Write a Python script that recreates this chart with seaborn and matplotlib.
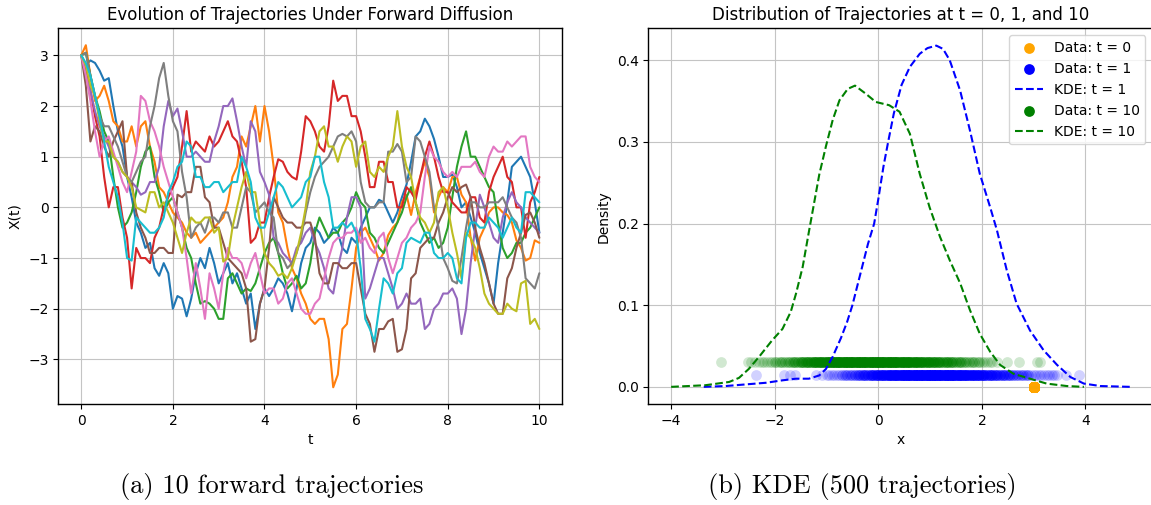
import numpy as np
import pandas as pd
import matplotlib.pyplot as plt
import seaborn as sns

# --- left panel: 10 forward trajectories (step 0.1) ---
t_grid = [0.0, 0.1, 0.2, 0.3, 0.4, 0.5, 0.6, 0.7, 0.8, 0.9,
          1.0, 1.1, 1.2, 1.3, 1.4, 1.5, 1.6, 1.7, 1.8, 1.9,
          2.0, 2.1, 2.2, 2.3, 2.4, 2.5, 2.6, 2.7, 2.8, 2.9,
          3.0, 3.1, 3.2, 3.3, 3.4, 3.5, 3.6, 3.7, 3.8, 3.9,
          4.0, 4.1, 4.2, 4.3, 4.4, 4.5, 4.6, 4.7, 4.8, 4.9,
          5.0, 5.1, 5.2, 5.3, 5.4, 5.5, 5.6, 5.7, 5.8, 5.9,
          6.0, 6.1, 6.2, 6.3, 6.4, 6.5, 6.6, 6.7, 6.8, 6.9,
          7.0, 7.1, 7.2, 7.3, 7.4, 7.5, 7.6, 7.7, 7.8, 7.9,
          8.0, 8.1, 8.2, 8.3, 8.4, 8.5, 8.6, 8.7, 8.8, 8.9,
          9.0, 9.1, 9.2, 9.3, 9.4, 9.5, 9.6, 9.7, 9.8, 9.9,
          10.0]

traj_01 = [3.0, 2.8, 2.9, 2.85, 2.7, 2.5, 2.55, 2.0, 1.5, 1.2,
           0.6, 0.2, -0.3, -0.5, -0.8, -0.7, -1.2, -1.35, -1.1, -1.3,
           -2.0, -1.75, -1.8, -2.15, -1.8, -1.3, -1.0, -1.2, -0.8, -1.1,
           -1.5, -1.3, -1.1, -1.5, -1.3, -1.6, -1.9, -1.7, -2.4, -1.9,
           -1.6, -1.75, -1.6, -1.4, -1.5, -1.7, -2.05, -1.6, -1.1, -0.8,
           -0.7, -0.4, -0.5, -0.7, -0.6, -0.4, -0.5, -0.8, -0.9, -0.6,
           -0.7, -0.4, -0.2, 0.0, 0.0, 0.15, 0.1, -0.1, -0.3, -0.1,
           0.2, 0.45, 0.9, 1.4, 1.5, 1.75, 1.6, 1.35, 1.0, 0.6,
           0.6, 0.65, 0.4, 0.0, 0.1, -0.2, -0.5, -0.9, -1.2, -1.5,
           -1.9, -1.1, -0.5, 0.1, 0.8, 0.9, 1.0, 0.8, 0.6, 0.1,
           -0.5]
traj_02 = [3.0, 3.2, 2.6, 2.1, 2.2, 2.4, 2.1, 1.7, 1.6, 1.3,
           1.3, 1.6, 1.2, 1.6, 1.7, 1.2, 0.9, 0.4, 0.3, 0.1,
           -0.1, -0.2, -0.3, -0.5, -0.6, -0.5, -0.7, -0.6, -0.5, -0.4,
           -0.3, -0.2, 0.1, 0.6, 0.8, 1.4, 1.2, 1.6, 2.0, 1.3,
           2.0, 1.5, 0.8, -0.1, -0.3, -0.8, -1.2, -1.4, -1.7, -1.9,
           -2.2, -2.3, -2.2, -2.2, -2.6, -3.55, -3.3, -2.4, -2.3, -1.6,
           -0.8, -0.5, -0.4, -0.6, -0.8, -1.05, -0.9, -0.55, -0.4, -0.3,
           0.1, 0.25, -0.15, 0.3, 0.6, 0.9, 0.6, -0.1, 0.2, 0.4,
           0.3, 0.6, 0.6, 0.25, 0.1, -0.6, -1.05, -0.6, -0.4, -0.1,
           0.0, 0.0, -0.1, -0.15, -0.3, -0.65, -0.8, -1.05, -1.0, -0.65,
           -0.7]
traj_03 = [3.0, 3.05, 2.6, 2.2, 1.9, 1.5, 1.3, 0.6, 0.0, -0.4,
           -0.3, -0.1, 0.3, 0.8, 1.1, 1.2, 0.6, 0.3, -0.1, 0.1,
           0.2, -0.1, -0.4, -0.8, -1.0, -1.5, -1.9, -1.85, -1.9, -2.0,
           -2.2, -2.2, -1.4, -1.3, -1.5, -1.7, -1.6, -1.65, -1.5, -1.2,
           -0.9, -0.7, -0.6, -0.9, -1.3, -1.6, -1.5, -1.35, -1.6, -1.5,
           -1.1, -0.5, -0.2, -0.4, -0.6, -0.5, -0.5, -0.3, -0.2, 0.0,
           0.3, 0.1, 0.0, -0.5, -0.6, -0.8, -0.9, -0.7, -0.5, -0.3,
           -0.1, 0.2, 0.4, 0.1, -0.3, -0.5, -0.7, -0.6, -0.8, -0.7,
           -0.4, 0.2, 0.8, 1.2, 1.5, 1.0, 1.0, 0.8, 0.6, 0.4,
           0.3, -0.3, -0.8, -1.0, -0.9, -0.7, -0.7, -0.5, -0.4, -0.2,
           0.0]
traj_04 = [3.0, 2.7, 2.3, 1.8, 1.4, 0.6, 0.0, 0.4, 0.4, -0.2,
           -0.6, -1.6, -0.8, -1.0, -1.0, -1.1, -0.6, -0.4, 0.0, 0.2,
           0.4, 0.6, 1.2, 1.9, 1.1, 1.3, 1.2, 1.1, 1.4, 1.2,
           1.3, 1.5, 1.7, 1.4, 1.3, 0.9, 0.4, -0.7, -0.6, -0.3,
           -0.3, 0.2, 0.6, 0.95, 0.9, 0.7, 0.6, 0.55, 1.1, 1.8,
           1.7, 1.5, 1.2, 1.1, 1.6, 2.5, 2.1, 2.2, 2.2, 1.8,
           1.8, 1.5, 1.0, 0.4, 0.4, 0.9, 0.9, 0.5, 0.5, 0.0,
           0.0, 0.4, 0.3, 0.15, 0.6, 1.0, 1.3, 1.0, 0.6, 0.3,
           0.3, 0.1, 0.0, -0.1, -0.1, 0.2, 0.2, -0.2, -0.3, 0.3,
           0.6, 0.8, 1.0, 0.6, 0.5, 0.0, 0.0, -0.6, 0.1, 0.3,
           0.6]
traj_05 = [3.0, 2.6, 2.3, 1.9, 1.6, 1.4, 1.2, 1.0, 0.9, 0.7,
           0.6, 0.5, 0.4, 0.25, 0.3, 0.5, 0.5, 0.8, 1.6, 2.1,
           1.8, 1.95, 1.5, 1.0, 1.0, 1.1, 1.0, 0.9, 0.9, 1.3,
           1.6, 2.0, 2.0, 2.15, 1.7, 1.2, 0.8, 1.7, 1.5, 0.7,
           0.5, 0.25, -0.6, -0.7, -0.9, -1.0, -1.1, -0.8, -0.7, -0.5,
           -0.4, -0.7, -0.9, -1.2, -1.6, -1.7, -1.2, -0.8, -0.2, 0.2,
           0.2, 0.0, -1.8, -1.6, -1.3, -1.0, -1.0, -1.3, -1.6, -2.0,
           -1.9, -1.7, -1.9, -1.9, -1.8, -2.4, -2.3, -2.0, -1.9, -1.7,
           -1.7, -1.6, -1.8, -2.5, -2.0, -1.1, -0.4, 0.25, 0.0, -0.3,
           -0.6, -0.7, -0.2, 0.1, 0.3, 0.1, 0.0, -0.2, -0.3, -0.4,
           -0.5]
traj_06 = [3.0, 2.4, 1.3, 1.6, 1.5, 1.2, 1.0, 1.3, 1.5, 1.7,
           0.6, 0.5, -0.1, -0.4, -0.6, -0.9, -0.9, -0.8, -0.8, -0.9,
           -0.9, 0.25, 0.2, 0.3, 0.3, 0.8, 0.8, 0.2, 0.1, -0.4,
           -0.4, -0.7, -1.0, -1.1, -1.2, -1.3, -1.6, -2.65, -2.6, -1.9,
           -1.6, -0.8, 0.2, 0.0, -0.2, -0.3, -0.3, -0.4, -0.4, -0.3,
           -0.3, -0.6, -1.3, -1.5, -1.5, -1.1, -1.1, -1.2, -1.2, -1.1,
           -1.1, -1.6, -2.1, -2.3, -2.85, -2.4, -2.4, -2.25, -2.2, -2.85,
           -2.8, -2.4, -1.4, -1.3, -0.8, -0.7, -0.6, -0.6, -0.3, -0.1,
           0.2, 0.4, 0.3, 0.4, 0.45, 0.2, -0.4, -0.8, -1.1, -1.5,
           -1.9, -2.1, -2.1, -1.4, -1.2, -0.8, -0.5, -0.15, -0.1, -0.3,
           -0.6]
traj_07 = [3.0, 2.6, 2.1, 1.5, 1.0, 1.3, 1.4, 1.1, 0.8, 0.5,
           0.3, 0.7, 1.1, 2.2, 2.1, 1.7, 1.5, 1.2, 0.8, 0.5,
           0.2, -0.1, -0.4, -1.0, -1.7, -1.1, -1.6, -2.2, -1.3, -1.6,
           -2.0, -1.3, -0.8, -1.0, -1.0, -1.1, -1.4, -1.1, -0.9, -1.3,
           -1.7, -1.6, -1.6, -1.9, -1.8, -1.5, -1.4, -1.7, -2.0, -2.1,
           -2.1, -1.9, -1.8, -1.4, -1.0, -0.7, -0.6, -0.6, -0.5, -0.5,
           -0.4, -0.7, -0.6, -0.8, -0.9, -0.6, -0.5, -1.0, -1.3, -1.0,
           -0.7, -0.6, -0.4, -0.3, -0.1, 0.6, 1.2, 1.0, 0.9, 0.7,
           0.6, 0.7, 0.6, 0.8, 0.8, 0.8, 0.9, 0.7, 0.6, 1.0,
           1.2, 1.1, 1.1, 1.3, 1.2, 1.3, 1.4, 1.4, 0.8, 0.6,
           0.5]
traj_08 = [3.0, 3.05, 2.6, 2.2, 1.8, 1.6, 1.6, 1.4, 1.2, 0.9,
           0.6, 0.5, 0.7, 0.9, 1.0, 1.6, 2.0, 2.55, 2.85, 2.2,
           1.7, 1.5, 0.7, 0.2, -0.6, -0.4, -0.3, -0.5, -0.2, -0.2,
           -0.3, -0.1, -0.1, -0.4, -0.4, 0.0, 0.4, 0.3, -0.1, 0.0,
           0.1, -0.1, -0.2, -0.9, -1.0, -1.2, -1.1, -0.9, -0.6, -0.1,
           0.3, 0.6, 0.8, 0.9, 1.0, 1.2, 1.4, 1.45, 1.4, 1.5,
           1.3, 0.5, 0.1, 0.0, 0.0, 0.1, 0.1, 1.1, 1.1, 1.25,
           1.1, 0.5, 0.6, 1.4, 1.3, 1.0, 0.7, 0.0, -0.4, -1.0,
           -1.2, -1.45, -1.5, -1.0, -0.4, 0.1, 0.1, 0.0, 0.0, 0.1,
           0.1, 0.1, 0.2, 0.0, -0.2, -0.3, -0.6, -1.4, -1.5, -1.6,
           -1.3]
traj_09 = [3.0, 2.8, 2.4, 2.2, 1.7, 1.3, 1.3, 1.0, 0.9, 0.7,
           0.6, 0.4, 0.0, -0.05, -0.1, 0.3, 0.3, 0.0, 0.1, -0.1,
           -0.3, -0.6, -0.9, -0.5, -0.2, -0.3, -0.3, -0.2, -0.2, -0.5,
           -0.4, -1.07, -1.0, -0.4, 0.0, 0.4, 0.7, 0.3, 0.3, -0.3,
           -0.9, -1.1, -1.2, -1.35, -1.3, -1.4, -1.2, -0.9, -0.5, 0.0,
           0.7, 1.0, 1.5, 1.6, 1.2, 1.2, 0.9, 1.2, 1.4, 1.3,
           0.8, 1.2, 1.3, 0.7, 0.6, 0.8, 0.7, 1.0, 1.2, 1.9,
           1.2, 0.8, 0.6, 0.1, -0.2, -0.3, -0.5, -0.3, 0.3, 0.4,
           0.0, -0.5, -0.9, -1.4, -0.5, -0.6, -0.8, -1.2, -1.7, -1.9,
           -2.0, -2.1, -2.1, -1.9, -2.0, -2.05, -1.5, -1.45, -2.3, -2.2,
           -2.4]
traj_10 = [3.0, 2.85, 2.6, 2.2, 1.8, 1.3, 0.8, 0.5, 0.2, -0.3,
           -1.0, -1.05, -0.2, -0.3, -0.4, -0.5, -0.5, -0.4, -0.2, 0.3,
           0.5, 0.8, 0.9, 1.3, 1.2, 0.6, 0.6, 0.4, 0.4, 0.5,
           0.5, 0.3, 0.4, 0.5, 0.5, 1.0, 0.8, 0.5, -0.2, -0.4,
           -0.4, -0.1, 0.2, 0.5, 0.4, 0.2, 0.0, 0.1, 0.2, 0.5,
           0.6, 1.0, 1.0, 0.5, 0.2, -0.4, -0.4, -0.3, -0.4, -0.3,
           -0.5, -1.2, -2.2, -2.4, -2.65, -2.0, -1.4, -1.5, -1.7, -1.3,
           -1.2, -0.7, -0.6, -0.65, -0.7, -0.5, -0.5, -0.9, -1.0, -1.0,
           -0.9, -1.0, -1.4, -1.5, -0.6, -0.3, -0.3, -0.4, -0.4, -0.2,
           -0.3, -0.4, -0.6, -0.4, -0.2, -0.4, -0.5, 0.3, 0.3, 0.2,
           0.1]

trajectories = [traj_01, traj_02, traj_03, traj_04, traj_05,
                traj_06, traj_07, traj_08, traj_09, traj_10]

# --- right panel: KDE curves ---
kde_t1_x = [-3.37, -2.95, -2.56, -2.17, -1.85, -1.59, -1.34, -1.14, -1.01, -0.88,
            -0.72, -0.6, -0.5, -0.4, -0.3, -0.2, -0.08, 0.0, 0.1, 0.19,
            0.3, 0.45, 0.61, 0.8, 0.95, 1.12, 1.25, 1.38, 1.58, 1.77,
            1.96, 2.16, 2.29, 2.48, 2.67, 2.93, 3.19, 3.45, 3.71, 3.97, 4.29, 4.87]
kde_t1_y = [0.0, 0.001, 0.003, 0.005, 0.008, 0.010, 0.010, 0.014, 0.022, 0.037,
            0.060, 0.080, 0.100, 0.125, 0.150, 0.175, 0.200, 0.230, 0.270, 0.300,
            0.335, 0.370, 0.392, 0.408, 0.415, 0.418, 0.414, 0.400, 0.363, 0.314,
            0.261, 0.220, 0.192, 0.143, 0.102, 0.069, 0.045, 0.027, 0.012, 0.004, 0.001, 0.0]

kde_t10_x = [-4.0, -3.34, -2.88, -2.69, -2.5, -2.3, -2.05, -1.85, -1.69, -1.59,
             -1.46, -1.34, -1.24, -1.14, -1.01, -0.88, -0.75, -0.59, -0.45, -0.24,
             -0.05, 0.21, 0.41, 0.61, 0.80, 0.99, 1.19, 1.38, 1.58, 1.77,
             1.96, 2.16, 2.35, 2.61, 2.93, 3.25, 3.64, 3.97]
kde_t10_y = [0.0, 0.002, 0.006, 0.011, 0.022, 0.037, 0.057, 0.071, 0.092, 0.114,
             0.147, 0.190, 0.225, 0.260, 0.295, 0.327, 0.351, 0.365, 0.369, 0.359,
             0.349, 0.345, 0.337, 0.310, 0.261, 0.220, 0.184, 0.155, 0.127, 0.094,
             0.065, 0.043, 0.027, 0.016, 0.010, 0.004, 0.001, 0.0]

# sample positions: value and how many of the 500 trajectories sit there
t0_value = 3.0
t0_count = 500

t1_x = [-2.37, -1.82, -1.70, -1.60, -1.21, -1.08, -1.0, -0.95,
        -0.90, -0.85, -0.80, -0.75, -0.70, -0.65, -0.60, -0.55, -0.50, -0.45,
        -0.40, -0.35, -0.30, -0.25, -0.20, -0.15, -0.10, -0.05, 0.00, 0.05,
        0.10, 0.15, 0.20, 0.25, 0.30, 0.35, 0.40, 0.45, 0.50, 0.55,
        0.60, 0.65, 0.70, 0.75, 0.80, 0.85, 0.90, 0.95, 1.00, 1.05,
        1.10, 1.15, 1.20, 1.25, 1.30, 1.35, 1.40, 1.45, 1.50, 1.55,
        1.60, 1.65, 1.70, 1.75, 1.80, 1.85, 1.90, 1.95, 2.00, 2.05,
        2.10, 2.15, 2.20, 2.25, 2.30, 2.35, 2.40, 2.45, 2.50, 2.55,
        2.60, 2.65, 2.70, 2.75, 2.80, 2.85, 2.90, 2.95, 3.00, 3.05,
        3.10, 3.15, 3.20, 3.25, 3.30, 3.35, 3.40, 3.45, 3.62, 3.87]
t1_n = [1, 1, 1, 1, 1, 1, 1, 1,
        1, 1, 1, 1, 2, 2, 2, 2, 2, 3,
        3, 3, 4, 4, 4, 5, 5, 5, 6, 6,
        7, 7, 8, 8, 8, 9, 9, 9, 10, 10,
        10, 10, 10, 10, 10, 10, 11, 11, 11, 11,
        11, 10, 10, 10, 10, 10, 10, 10, 9, 9,
        9, 8, 8, 8, 7, 7, 7, 6, 6, 6,
        5, 5, 5, 4, 4, 4, 4, 3, 3, 3,
        3, 2, 2, 2, 2, 2, 2, 1, 1, 1,
        1, 1, 1, 1, 1, 1, 1, 1, 1, 1]

t10_x = [-3.03, -2.52, -2.45, -2.38, -2.30, -2.25, -2.20, -2.15, -2.10, -2.05,
         -2.00, -1.95, -1.90, -1.85, -1.80, -1.75, -1.70, -1.65, -1.60, -1.55,
         -1.50, -1.45, -1.40, -1.35, -1.30, -1.25, -1.20, -1.15, -1.10, -1.05,
         -1.00, -0.95, -0.90, -0.85, -0.80, -0.75, -0.70, -0.65, -0.60, -0.55,
         -0.50, -0.45, -0.40, -0.35, -0.30, -0.25, -0.20, -0.15, -0.10, -0.05,
         0.00, 0.05, 0.10, 0.15, 0.20, 0.25, 0.30, 0.35, 0.40, 0.45,
         0.50, 0.55, 0.60, 0.65, 0.70, 0.75, 0.80, 0.85, 0.90, 0.95,
         1.00, 1.05, 1.10, 1.15, 1.20, 1.25, 1.30, 1.35, 1.40, 1.45,
         1.50, 1.55, 1.60, 1.65, 1.70, 1.75, 1.80, 1.85, 1.90, 1.95,
         2.00, 2.05, 2.10, 2.15, 2.20, 2.29, 2.48, 2.71, 3.06, 3.12]
t10_n = [1, 1, 1, 1, 1, 1, 1, 1, 1, 1,
         2, 1, 2, 2, 2, 2, 2, 3, 3, 3,
         4, 4, 4, 5, 5, 6, 6, 6, 7, 7,
         7, 8, 8, 8, 9, 9, 9, 9, 9, 9,
         9, 9, 9, 9, 9, 9, 9, 9, 9, 9,
         9, 9, 9, 9, 9, 9, 9, 9, 8, 8,
         8, 8, 8, 7, 7, 7, 6, 6, 6, 6,
         5, 5, 5, 5, 4, 4, 4, 4, 4, 3,
         3, 3, 3, 2, 2, 2, 2, 2, 1, 2,
         1, 1, 1, 1, 1, 1, 1, 1, 1, 1]

sns.set_theme(style="whitegrid", rc={
    "axes.edgecolor": "black",
    "axes.linewidth": 1.0,
    "grid.color": "#c4c4c4",
    "grid.linewidth": 0.8,
    "xtick.bottom": True,
    "ytick.left": True,
    "xtick.color": "black",
    "ytick.color": "black",
    "xtick.major.size": 3.5,
    "ytick.major.size": 3.5,
    "xtick.major.width": 0.8,
    "ytick.major.width": 0.8,
    "font.size": 10,
    "axes.titlesize": 12,
    "axes.labelsize": 10,
    "xtick.labelsize": 10,
    "ytick.labelsize": 10,
    "legend.fontsize": 10,
    "legend.frameon": True,
    "legend.framealpha": 0.8,
    "legend.edgecolor": "0.8",
    "text.color": "black",
    "axes.labelcolor": "black",
})
plt.rcParams["font.family"] = ["DejaVu Sans"]

fig = plt.figure(figsize=(11.51, 5.05), dpi=100)
ax1 = fig.add_axes([0.0507, 0.2, 0.4378, 0.7436])
ax2 = fig.add_axes([0.5633, 0.2, 0.4378, 0.7436])

# left: trajectories
traj_df = pd.concat(
    [pd.DataFrame({"t": t_grid, "X(t)": v, "traj": f"path {i + 1}"})
     for i, v in enumerate(trajectories)],
    ignore_index=True,
)
sns.lineplot(data=traj_df, x="t", y="X(t)", hue="traj", palette="tab10",
             legend=False, errorbar=None, linewidth=1.5, ax=ax1)
ax1.set_xlim(-0.5, 10.5)
ax1.set_ylim(-3.88, 3.53)
ax1.set_title("Evolution of Trajectories Under Forward Diffusion")
ax1.set_xlabel("t")
ax1.set_ylabel("X(t)")

# right: samples + KDE
x0 = np.full(t0_count, t0_value)
x1 = np.repeat(t1_x, t1_n)
x10 = np.repeat(t10_x, t10_n)

pt_kw = dict(alpha=0.18, s=60, linewidth=0, ax=ax2)
sns.scatterplot(x=x0, y=np.zeros(len(x0)), color="orange", label="Data: t = 0", **pt_kw)
sns.scatterplot(x=x1, y=np.full(len(x1), 0.015), color="blue", label="Data: t = 1", **pt_kw)
sns.lineplot(x=kde_t1_x, y=kde_t1_y, color="blue", linestyle="--", linewidth=1.5,
             label="KDE: t = 1", ax=ax2)
sns.scatterplot(x=x10, y=np.full(len(x10), 0.03), color="green", label="Data: t = 10", **pt_kw)
sns.lineplot(x=kde_t10_x, y=kde_t10_y, color="green", linestyle="--", linewidth=1.5,
             label="KDE: t = 10", ax=ax2)

ax2.set_xlim(-4.44, 5.29)
ax2.set_ylim(-0.021, 0.439)
ax2.set_title("Distribution of Trajectories at t = 0, 1, and 10")
ax2.set_xlabel("x")
ax2.set_ylabel("Density")
leg = ax2.legend(loc="upper right")
for h in leg.legend_handles:
    h.set_alpha(1)

# sub-captions
fig.text(272 / 1151, 1 - 487 / 505, "(a) 10 forward trajectories",
         ha="center", va="center", fontsize=19, family="cmr10")
fig.text(862 / 1151, 1 - 487 / 505, "(b) KDE (500 trajectories)",
         ha="center", va="center", fontsize=19, family="cmr10")

fig.savefig("out.png", dpi=100)
